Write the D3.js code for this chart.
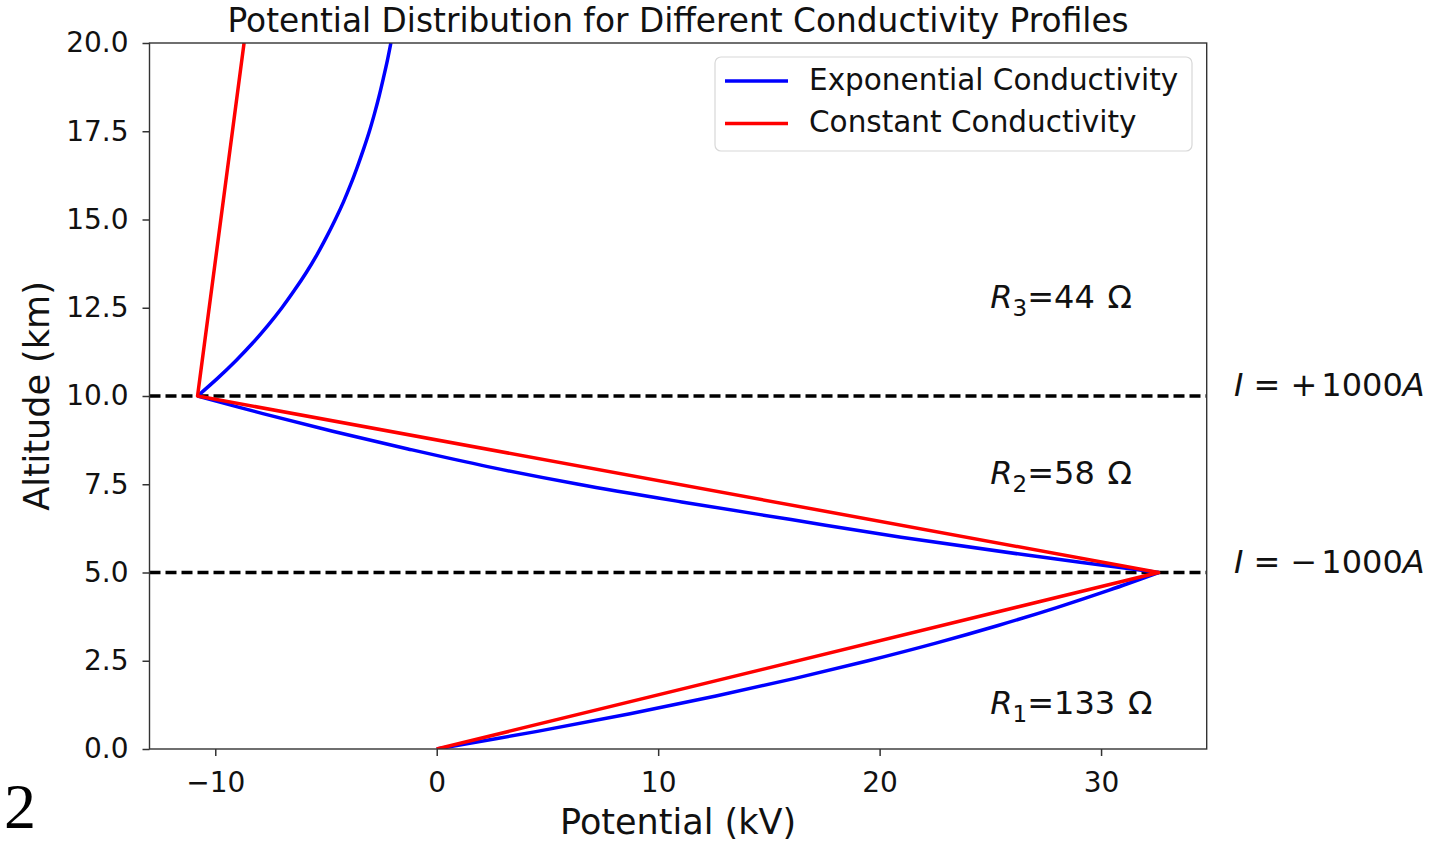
<!DOCTYPE html>
<html>
<head>
<meta charset="utf-8">
<script src="https://d3js.org/d3.v7.min.js"></script>
<style>
  body { margin: 0; background: #fff; }
  svg { display: block; font-family: "DejaVu Sans", sans-serif; }
</style>
</head>
<body>
<div id="chart"></div>
<script>
// Altitude (km) grid used for the exponential conductivity profile
const altitudeKm = [
  0, 0.5, 1, 1.5, 2, 2.5, 3, 3.5, 4, 4.5, 5,
  5.5, 6, 6.5, 7, 7.5, 8, 8.5, 9, 9.5, 10,
  10.5, 11, 11.5, 12, 12.5, 13, 13.5, 14, 14.5, 15,
  15.5, 16, 16.5, 17, 17.5, 18, 18.5, 19, 19.5, 20
];
// Potential (kV), exponential conductivity
const potentialExp = [
  0, 4.54, 8.73, 12.61, 16.18, 19.48, 22.54, 25.35, 27.96, 30.37, 32.6,
  26.56, 20.97, 16.0, 11.06, 6.4, 2.3, -1.3, -4.7, -7.85, -10.8,
  -9.9, -9.07, -8.31, -7.62, -6.99, -6.42, -5.89, -5.41, -4.98, -4.58,
  -4.21, -3.88, -3.58, -3.3, -3.04, -2.81, -2.6, -2.41, -2.23, -2.07
];
// Constant conductivity: straight segments between layer boundaries
const altitudeConst = [0, 5, 10, 20];
const potentialConst = [0, 32.6, -10.8, -8.7];

// Layer boundaries (current injection altitudes) and labels
const boundaryKm = [5, 10];
const boundaryCurrent = ["\u22121000", "+1000"];
const layerTop = [5, 10, 20];
const layerResistance = [133, 58, 44];

const seriesNames = ["Exponential Conductivity", "Constant Conductivity"];
const seriesColors = ["#0000ff", "#ff0000"];

const xTicks = [-10, 0, 10, 20, 30];
const yTicks = [0, 2.5, 5, 7.5, 10, 12.5, 15, 17.5, 20];

const width = 1453, height = 842;
const margin = { top: 43, right: 246.3, bottom: 93, left: 149.5 };
const plotW = width - margin.left - margin.right;
const plotH = height - margin.top - margin.bottom;

const svg = d3.select("#chart").append("svg")
  .attr("width", width)
  .attr("height", height);

svg.append("rect").attr("width", width).attr("height", height).attr("fill", "#fff");

// matplotlib-like 5% margin on x, fixed 0..20 on y
const allV = potentialExp.concat(potentialConst);
const vMin = d3.min(allV), vMax = d3.max(allV);
const pad = (vMax - vMin) * 0.05;

const x = d3.scaleLinear().domain([vMin - pad, vMax + pad]).range([0, plotW]);
const y = d3.scaleLinear().domain([0, 20]).range([plotH, 0]);

const g = svg.append("g").attr("transform", `translate(${margin.left},${margin.top})`);

g.append("clipPath").attr("id", "clip")
  .append("rect").attr("width", plotW).attr("height", plotH);

const plot = g.append("g").attr("clip-path", "url(#clip)");

// dashed boundary lines
plot.selectAll(".boundary")
  .data(boundaryKm)
  .join("line")
  .attr("class", "boundary")
  .attr("x1", 0).attr("x2", plotW)
  .attr("y1", d => y(d)).attr("y2", d => y(d))
  .attr("stroke", "#000")
  .attr("stroke-width", 3.7)
  .attr("stroke-dasharray", "11,5");

// exponential profile, drawn one layer at a time so the kinks stay sharp
const expPts = altitudeKm.map((h, i) => ({ h: h, v: potentialExp[i] }));
const layerBottoms = [0].concat(layerTop.slice(0, -1));
const curveLine = d3.line()
  .x(d => x(d.v))
  .y(d => y(d.h))
  .curve(d3.curveCatmullRom.alpha(0.5));

layerTop.forEach((top, i) => {
  const seg = expPts.filter(p => p.h >= layerBottoms[i] && p.h <= top);
  plot.append("path")
    .datum(seg)
    .attr("fill", "none")
    .attr("stroke", seriesColors[0])
    .attr("stroke-width", 3.5)
    .attr("stroke-linejoin", "round")
    .attr("d", curveLine);
});

const constPts = altitudeConst.map((h, i) => ({ h: h, v: potentialConst[i] }));
plot.append("path")
  .datum(constPts)
  .attr("fill", "none")
  .attr("stroke", seriesColors[1])
  .attr("stroke-width", 3.5)
  .attr("stroke-linejoin", "round")
  .attr("d", d3.line().x(d => x(d.v)).y(d => y(d.h)));

// axes
const xAxis = g.append("g")
  .attr("transform", `translate(0,${plotH})`)
  .call(d3.axisBottom(x).tickValues(xTicks).tickSize(7).tickPadding(16).tickSizeOuter(0));
const yAxis = g.append("g")
  .call(d3.axisLeft(y).tickValues(yTicks).tickFormat(d3.format(".1f")).tickSize(7).tickPadding(14).tickSizeOuter(0));

[xAxis, yAxis].forEach(ax => {
  ax.select(".domain").remove();
  ax.selectAll(".tick line").attr("stroke", "#333").attr("stroke-width", 1.5);
  ax.selectAll(".tick text")
    .attr("fill", "#111")
    .style("font-family", "DejaVu Sans")
    .style("font-size", "28px");
});

// frame
g.append("rect")
  .attr("width", plotW).attr("height", plotH)
  .attr("fill", "none")
  .attr("stroke", "#333")
  .attr("stroke-width", 1.4);

// title and axis labels
svg.append("text")
  .attr("x", margin.left + plotW / 2).attr("y", 32)
  .attr("text-anchor", "middle")
  .style("font-size", "32.8px")
  .attr("fill", "#111")
  .text("Potential Distribution for Different Conductivity Profiles");

svg.append("text")
  .attr("x", margin.left + plotW / 2).attr("y", 834)
  .attr("text-anchor", "middle")
  .style("font-size", "35px")
  .attr("fill", "#111")
  .text("Potential (kV)");

svg.append("text")
  .attr("transform", `translate(49,${margin.top + plotH / 2}) rotate(-90)`)
  .attr("text-anchor", "middle")
  .style("font-size", "35px")
  .attr("fill", "#111")
  .text("Altitude (km)");

// resistance annotations (placed at V = 25 kV)
const resLabelH = [1, 7.5, 12.5];
layerResistance.forEach((r, i) => {
  const t = g.append("text")
    .attr("x", x(25)).attr("y", y(resLabelH[i]))
    .style("font-size", "32px")
    .attr("fill", "#111");
  t.append("tspan").style("font-style", "italic").text("R");
  t.append("tspan").attr("dy", 8).style("font-size", "23px").text(i + 1);
  t.append("tspan").attr("dy", -8).text(`=${r}\u2009\u2009\u03A9`);
});

// current annotations just right of the frame
boundaryKm.forEach((h, i) => {
  const t = g.append("text")
    .attr("x", x(36)).attr("y", y(h))
    .style("font-size", "32px")
    .attr("fill", "#111");
  t.append("tspan").style("font-style", "italic").text("I");
  t.append("tspan").text(" = " + boundaryCurrent[i].charAt(0));
  t.append("tspan").attr("dx", 4).text(boundaryCurrent[i].slice(1));
  t.append("tspan").style("font-style", "italic").text("A");
});

// legend
const legend = svg.append("g").attr("transform", "translate(715,57)");
legend.append("rect")
  .attr("width", 477).attr("height", 94)
  .attr("rx", 6)
  .attr("fill", "#fff")
  .attr("fill-opacity", 0.8)
  .attr("stroke", "#d8d8d8")
  .attr("stroke-width", 1.2);
const item = legend.selectAll(".item")
  .data(seriesNames)
  .join("g")
  .attr("class", "item")
  .attr("transform", (d, i) => `translate(0,${24 + i * 42.5})`);
item.append("line")
  .attr("x1", 10).attr("x2", 73)
  .attr("stroke", (d, i) => seriesColors[i])
  .attr("stroke-width", 3.5);
item.append("text")
  .attr("x", 94).attr("y", 8.5)
  .style("font-size", "29.5px")
  .attr("fill", "#111")
  .text(d => d);

// panel number
svg.append("text")
  .attr("x", 4).attr("y", 828)
  .style("font-family", "Liberation Serif")
  .style("font-size", "64px")
  .attr("fill", "#000")
  .text("2");
</script>
</body>
</html>
